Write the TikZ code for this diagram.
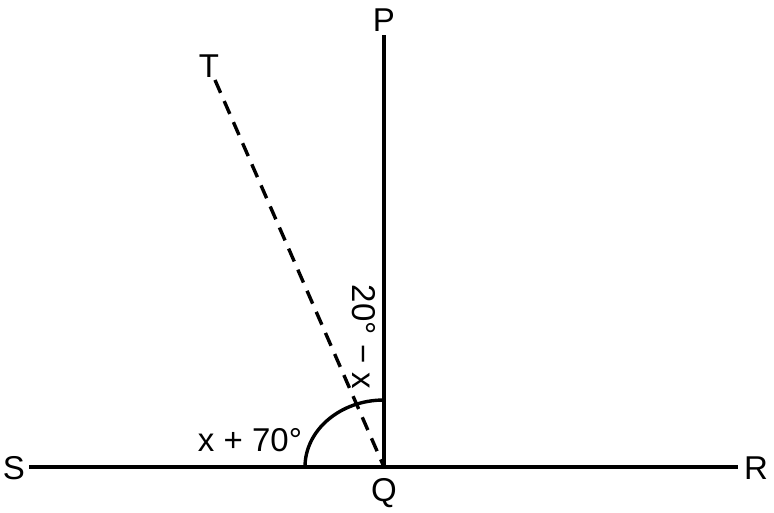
\documentclass[tikz,border=0pt]{standalone}
\usepackage{fontspec}
\setmainfont{Liberation Sans}
\usetikzlibrary{positioning}
\tikzset{seg/.style={line width=3.8pt, line cap=butt},
  ray/.style={line width=3.4pt, dash pattern=on 14pt off 9pt},
  lbl/.style={font=\fontsize{33}{38}\selectfont, inner sep=0pt}}

\begin{document}
\begin{tikzpicture}[x=1pt, y=-1pt]
    \useasboundingbox (0,0) rectangle (774,513);
    \coordinate (q) at (384,467);
    \coordinate[above=432pt of q] (p);
    \coordinate[left=355pt of q] (s);
    \coordinate[right=354pt of q] (r);
    \coordinate (t) at (215,80);
    \draw[seg] (s) -- (r);
    \draw[seg] (q) -- (p);
    \draw[ray] (t) -- (q);
    \draw[line width=3.4pt] (q) ++(-79pt,0pt) arc[start angle=180, end angle=90, x radius=79pt, y radius=67pt];
    \node [lbl] at (14,468) {S};
    \node [lbl] at (756,468) {R};
    \node [lbl] at (384,20) {P};
    \node [lbl] at (384,493) {Q};
    \node [lbl] at (209,66) {T};
    \node [lbl] at (250,440) {x + 70°};
    \node [lbl, rotate=-90] at (364,337) {20° − x};
  \end{tikzpicture}
\end{document}
